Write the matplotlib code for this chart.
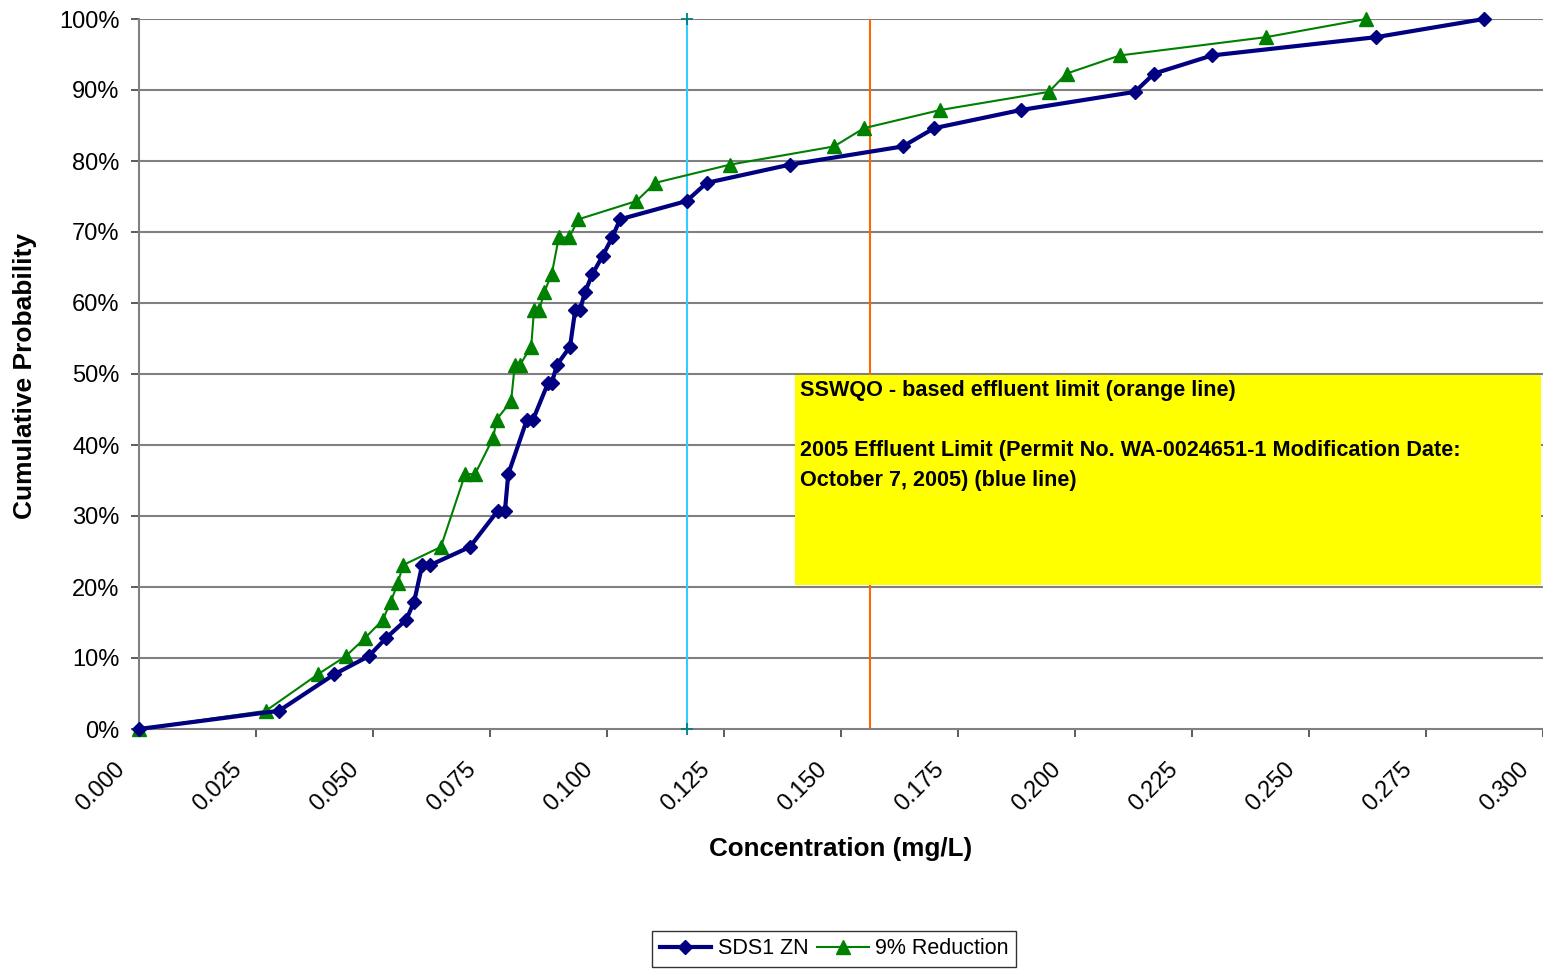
import matplotlib

matplotlib.use("Agg")

import matplotlib.pyplot as plt
from matplotlib.patches import Rectangle
from matplotlib.ticker import FuncFormatter, MultipleLocator
from matplotlib.transforms import ScaledTranslation

# Cumulative probability curves.
SDS1_CONC = [
    0.0000, 0.0299, 0.0417, 0.0491, 0.0528, 0.0571, 0.0588, 0.0605, 0.0622,
    0.0707, 0.0767, 0.0782, 0.0789, 0.0829, 0.0842, 0.0874, 0.0882, 0.0893,
    0.0921, 0.0932, 0.0942, 0.0953, 0.0969, 0.0991, 0.1011, 0.1028, 0.1170,
    0.1213, 0.1391, 0.1632, 0.1699, 0.1884, 0.2128, 0.2169, 0.2293, 0.2643,
    0.2874,
]
SDS1_PROB = [
    0.00, 2.56, 7.69, 10.26, 12.82, 15.38, 17.95, 23.08, 23.08,
    25.64, 30.77, 30.77, 35.90, 43.59, 43.59, 48.72, 48.72, 51.28,
    53.85, 58.97, 58.97, 61.54, 64.10, 66.67, 69.23, 71.79, 74.36,
    76.92, 79.49, 82.05, 84.62, 87.18, 89.74, 92.31, 94.87, 97.44,
    100.00,
]
REDUCED_CONC = [
    0.0000, 0.0271, 0.0382, 0.0442, 0.0483, 0.0521, 0.0538, 0.0553, 0.0564,
    0.0645, 0.0697, 0.0718, 0.0757, 0.0764, 0.0795, 0.0803, 0.0814, 0.0838,
    0.0844, 0.0855, 0.0866, 0.0882, 0.0897, 0.0919, 0.0939, 0.1063, 0.1103,
    0.1263, 0.1485, 0.1549, 0.1712, 0.1944, 0.1982, 0.2096, 0.2408, 0.2622,
]
REDUCED_PROB = [
    0.00, 2.56, 7.69, 10.26, 12.82, 15.38, 17.95, 20.51, 23.08,
    25.64, 35.90, 35.90, 41.03, 43.59, 46.15, 51.28, 51.28, 53.85,
    58.97, 58.97, 61.54, 64.10, 69.23, 69.23, 71.79, 74.36, 76.92,
    79.49, 82.05, 84.62, 87.18, 89.74, 92.31, 94.87, 97.44, 100.00,
]

PERMIT_LIMIT = 0.1170   # blue line
SSWQO_LIMIT = 0.1562    # orange line

NOTE_TEXT = (
    "SSWQO - based effluent limit (orange line)\n\n"
    "2005 Effluent Limit (Permit No. WA-0024651-1 Modification Date:\n"
    "October 7, 2005) (blue line)"
)

FONT = ["Liberation Sans", "DejaVu Sans"]
NARROW = ["Liberation Sans Narrow", "Liberation Sans", "DejaVu Sans"]
GRID_GRAY = "#808080"


def main():
    plt.rcParams["font.family"] = FONT
    fig = plt.figure(figsize=(15.43, 9.74), dpi=100)
    ax = fig.add_axes([139 / 1543, 1 - 729 / 974, 1 - 139 / 1543, (729 - 19) / 974])

    ax.set_xlim(0.0, 0.300)
    ax.set_ylim(0, 100)

    for y in range(10, 101, 10):
        ax.axhline(y, color=GRID_GRAY, linewidth=1.5, zorder=1)

    ax.axvline(SSWQO_LIMIT, color="#FF6600", linewidth=1.5, zorder=2)
    ax.plot([PERMIT_LIMIT, PERMIT_LIMIT], [0, 100], color="#33CCFF", linewidth=1.5,
            zorder=2, clip_on=False)
    ax.plot([PERMIT_LIMIT, PERMIT_LIMIT], [0, 100], linestyle="none", marker="+",
            markersize=9, markeredgewidth=1.3, color="#008080", zorder=3, clip_on=False)

    ax.plot(SDS1_CONC, SDS1_PROB, color="#000080", linewidth=3.0, marker="D",
            markersize=7.5, label="SDS1 ZN", zorder=5, clip_on=False)
    ax.plot(REDUCED_CONC, REDUCED_PROB, color="#008000", linewidth=1.5, marker="^",
            markersize=10, label="9% Reduction", zorder=4, clip_on=False)

    # yellow note box sits on top of the orange line
    box = Rectangle((0.1402, 20.3), 0.2996 - 0.1402, 49.9 - 20.3,
                    facecolor="#FFFF00", edgecolor="none", zorder=6)
    ax.add_patch(box)
    ax.text(0.1412, 49.1, NOTE_TEXT, ha="left", va="top", fontsize=15.6,
            fontweight="bold", family=NARROW, linespacing=1.55, zorder=7)

    for side in ("top", "right"):
        ax.spines[side].set_visible(False)
    for side in ("left", "bottom"):
        ax.spines[side].set_color(GRID_GRAY)
        ax.spines[side].set_linewidth(1.5)

    ax.xaxis.set_major_locator(MultipleLocator(0.025))
    ax.yaxis.set_major_locator(MultipleLocator(10))
    ax.xaxis.set_major_formatter(FuncFormatter(lambda v, _: f"{v:.3f}"))
    ax.yaxis.set_major_formatter(FuncFormatter(lambda v, _: f"{v:.0f}%"))
    ax.tick_params(axis="both", direction="out", color="#404040", width=1.2,
                   length=6, labelsize=17)
    ax.tick_params(axis="y", pad=8)
    ax.tick_params(axis="x", pad=10)
    shift = ScaledTranslation(-0.17, -0.15, fig.dpi_scale_trans)
    for lbl in ax.get_xticklabels():
        lbl.set_rotation(45)
        lbl.set_ha("right")
        lbl.set_va("center")
        lbl.set_rotation_mode("anchor")
        lbl.set_transform(lbl.get_transform() + shift)

    ax.set_xlabel("Concentration (mg/L)", fontsize=18.7, fontweight="bold",
                  family=NARROW)
    ax.xaxis.label.set_va("center")
    ax.xaxis.set_label_coords(0.5, -(849 - 729) / 710)
    ax.set_ylabel("Cumulative Probability", fontsize=19, fontweight="bold",
                  family=NARROW)
    ax.yaxis.label.set_va("center")
    ax.yaxis.set_label_coords((25 - 139) / 1404, (729 - 376) / 710)

    leg = fig.legend(loc="center", bbox_to_anchor=(834 / 1543, 1 - 949 / 974), ncol=2,
                     fontsize=15.5, frameon=True, fancybox=False, handlelength=2.4,
                     columnspacing=0.4, handletextpad=0.3, borderpad=0.35)
    leg.get_frame().set_edgecolor("black")
    leg.get_frame().set_linewidth(1.0)

    fig.savefig("out.png", dpi=100, facecolor="white")


if __name__ == "__main__":
    main()
